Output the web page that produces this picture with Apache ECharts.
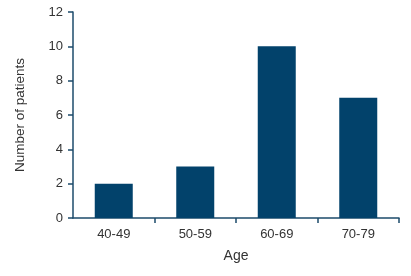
<!DOCTYPE html>
<html><head><meta charset="utf-8">
<script src="https://cdn.jsdelivr.net/npm/echarts@6/dist/echarts.min.js"></script>
<style>html,body{margin:0;padding:0;background:#fff}#c{width:411px;height:276px}</style>
</head><body><div id="c"></div>
<script>
const categories = ['40-49', '50-59', '60-69', '70-79'];
const patients = [2, 3, 10, 7];
const yTicks = [0, 2, 4, 6, 8, 10, 12];

const axisColor = '#1d4b6b';
const textColor = '#333333';
const chart = echarts.init(document.getElementById('c'));
chart.setOption({
  animation: false,
  grid: {left: 73, right: 12, top: 12, bottom: 58},
  xAxis: {
    type: 'category',
    data: categories,
    name: 'Age',
    nameLocation: 'middle',
    nameGap: 31,
    nameTextStyle: {fontFamily: 'Liberation Sans', fontSize: 14, color: textColor},
    axisLine: {lineStyle: {color: axisColor, width: 1.5}},
    axisTick: {show: true, length: 5, interval: function(i){ return i > 0 && i < categories.length; }, lineStyle: {color: axisColor, width: 1.5}},
    axisLabel: {fontFamily: 'Liberation Sans', fontSize: 13, color: textColor, margin: 10}
  },
  yAxis: {
    type: 'value',
    min: yTicks[0],
    max: yTicks[yTicks.length - 1],
    interval: 2,
    name: 'Number of patients',
    nameLocation: 'middle',
    nameGap: 46,
    nameTextStyle: {fontFamily: 'Liberation Sans', fontSize: 13.5, color: textColor},
    splitLine: {show: false},
    axisLine: {show: true, lineStyle: {color: axisColor, width: 1.5}},
    axisTick: {show: true, length: 5, lineStyle: {color: axisColor, width: 1.5}},
    axisLabel: {fontFamily: 'Liberation Sans', fontSize: 13, color: textColor, margin: 10}
  },
  series: [{
    type: 'bar',
    data: patients,
    barWidth: 38,
    itemStyle: {color: '#02426b'}
  }]
});
</script></body></html>
